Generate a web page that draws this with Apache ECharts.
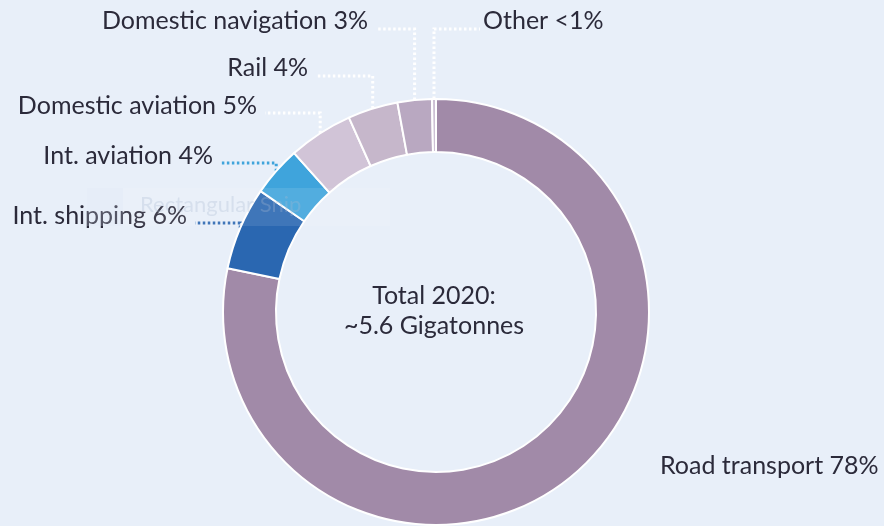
<!DOCTYPE html>
<html>
<head>
<meta charset="utf-8">
<script src="https://cdn.jsdelivr.net/npm/echarts@6/dist/echarts.min.js"></script>
<style>
  html, body { margin: 0; padding: 0; background: #e8eff9; }
  #chart { width: 884px; height: 526px; }
</style>
</head>
<body>
<div id="chart"></div>
<script>
// clockwise from 12 o'clock
const categories = ["Road transport", "Int. shipping", "Int. aviation", "Domestic aviation", "Rail", "Domestic navigation", "Other"];
const shares = [78.3, 6.3, 3.8, 4.9, 3.8, 2.6, 0.3];
const shareLabels = ["78%", "6%", "4%", "5%", "4%", "3%", "<1%"];
const centerLines = ["Total 2020:", "~5.6 Gigatonnes"];

const colors = ["#a18aa8", "#2a67b1", "#3fa4dc", "#d1c4d7", "#c6b7cb", "#b9a8c1", "#cdc0d4"];
const lineColors = [null, "#2a67b1", "#3fa4dc", "#ffffff", "#ffffff", "#ffffff", "#ffffff"];
// label layout: text x, text y (middle), align, y of the leader line
const labelPos = [
  [660, 466, "left", null],
  [187, 216, "right", 223],
  [213, 156, "right", 163],
  [257, 106, "right", 113],
  [308, 68, "right", 76],
  [368, 21, "right", 29],
  [483, 21, "left", 29]
];

const textColor = "#2b2a3a";
const font = "Lato";

const chart = echarts.init(document.getElementById("chart"));

const option = {
  backgroundColor: "#e8eff9",
  animation: false,
  graphic: [
    {
      type: "rect",
      left: 87, top: 188, z: 100,
      shape: { width: 303, height: 38 },
      style: { fill: "rgba(255,255,255,0.1)" }
    },
    {
      type: "rect",
      left: 87, top: 188, z: 100,
      shape: { width: 36, height: 38 },
      style: { fill: "rgba(210,222,240,0.15)" }
    },
    {
      type: "text",
      left: 140, top: 194, z: 100,
      style: { text: "Rectangular Snip", font: "22px " + font, fill: "rgba(170,185,210,0.3)" }
    },
    {
      type: "text",
      x: 434, y: 311, z: 10,
      style: {
        text: centerLines.join("\n"),
        font: "25px " + font,
        lineHeight: 30,
        align: "center",
        verticalAlign: "middle",
        fill: textColor
      }
    }
  ],
  series: [
    {
      type: "pie",
      center: [436, 312],
      radius: [160, 213],
      startAngle: 90,
      clockwise: true,
      silent: true,
      itemStyle: { borderColor: "#ffffff", borderWidth: 2 },
      label: {
        show: true,
        color: textColor,
        fontFamily: font,
        fontSize: 25,
        overflow: "none",
        formatter: function (p) { return p.name + " " + shareLabels[p.dataIndex]; }
      },
      labelLine: {
        show: true,
        lineStyle: { width: 3, type: [2.5, 2.5], cap: "butt" }
      },
      labelLayout: function (params) {
        const i = params.dataIndex;
        const p = labelPos[i];
        const out = { x: p[0], y: p[1], align: p[2], verticalAlign: "middle" };
        if (p[3] !== null && params.labelLinePoints) {
          const a = params.labelLinePoints[0];
          const endX = p[2] === "right" ? p[0] + 8 : p[0] - 3;
          out.labelLinePoints = [[a[0], a[1]], [a[0], p[3]], [endX, p[3]]];
        }
        return out;
      },
      data: categories.map(function (name, i) {
        return {
          name: name,
          value: shares[i],
          itemStyle: { color: colors[i] },
          labelLine: lineColors[i] ? { show: true, lineStyle: { color: lineColors[i] } } : { show: false }
        };
      })
    }
  ]
};

chart.setOption(option);
</script>
</body>
</html>
